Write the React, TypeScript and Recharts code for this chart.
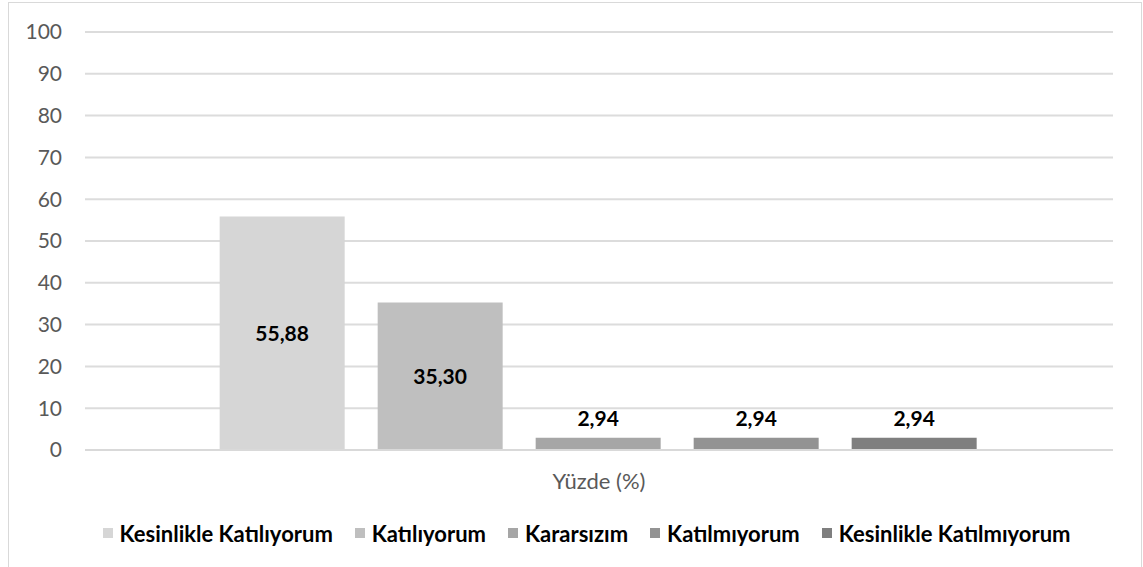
import React from "react";
import { BarChart, Bar, XAxis, YAxis, CartesianGrid, Legend, LabelList } from "recharts";

const categories = ["Yüzde (%)"];
const seriesNames = [
  "Kesinlikle Katılıyorum",
  "Katılıyorum",
  "Kararsızım",
  "Katılmıyorum",
  "Kesinlikle Katılmıyorum",
];
const seriesValues = [55.88, 35.3, 2.94, 2.94, 2.94];
const seriesColors = ["#d6d6d6", "#bfbfbf", "#a6a6a6", "#939393", "#7f7f7f"];
const yTicks = [0, 10, 20, 30, 40, 50, 60, 70, 80, 90, 100];

const data = categories.map((name) => {
  const row: Record<string, string | number> = { name };
  seriesValues.forEach((v, i) => {
    row["s" + i] = v;
  });
  return row;
});

const fmt = (v: any) => Number(v).toFixed(2).replace(".", ",");

function LegendContent() {
  return (
    <div
      style={{
        display: "flex",
        justifyContent: "center",
        alignItems: "center",
        gap: 22,
        height: 30,
        paddingLeft: 51,
        fontFamily: "Lato",
        fontWeight: 700,
        fontSize: 22,
        color: "#000",
      }}
    >
      {seriesNames.map((n, i) => (
        <div key={n} style={{ display: "flex", alignItems: "center" }}>
          <span style={{ width: 10, height: 10, background: seriesColors[i], marginRight: 7 }} />
          <span>{n}</span>
        </div>
      ))}
    </div>
  );
}

export default function App() {
  return (
    <div
      style={{
        position: "absolute",
        left: 8,
        top: 2,
        width: 1132,
        height: 564,
        border: "1px solid #d9d9d9",
        background: "#fff",
      }}
    >
      <BarChart
        width={1132}
        height={564}
        data={data}
        margin={{ top: 29, right: 28, left: 0, bottom: 19 }}
        barCategoryGap="13.1%"
        barGap={33}
      >
        <CartesianGrid horizontal vertical={false} stroke="#dcdcdc" strokeWidth={2} />
        <XAxis
          dataKey="name"
          height={68}
          tickLine={false}
          tickSize={0}
          tickMargin={23}
          axisLine={{ stroke: "#d9d9d9", strokeWidth: 2 }}
          tick={{ fill: "#595959", fontSize: 22, fontFamily: "Lato" }}
        />
        <YAxis
          width={76}
          domain={[0, 100]}
          ticks={yTicks}
          interval={0}
          axisLine={false}
          tickLine={false}
          tickSize={0}
          tickMargin={23}
          tick={{ fill: "#595959", fontSize: 21, fontFamily: "Lato" }}
        />
        <Legend verticalAlign="bottom" content={LegendContent} />
        {seriesNames.map((n, i) => (
          <Bar key={n} dataKey={"s" + i} name={n} fill={seriesColors[i]} isAnimationActive={false}>
            <LabelList
              dataKey={"s" + i}
              position={seriesValues[i] > 10 ? "center" : "top"}
              offset={12}
              formatter={fmt}
              style={{ fill: "#000", fontSize: 21, fontWeight: 700, fontFamily: "Lato" }}
            />
          </Bar>
        ))}
      </BarChart>
    </div>
  );
}
